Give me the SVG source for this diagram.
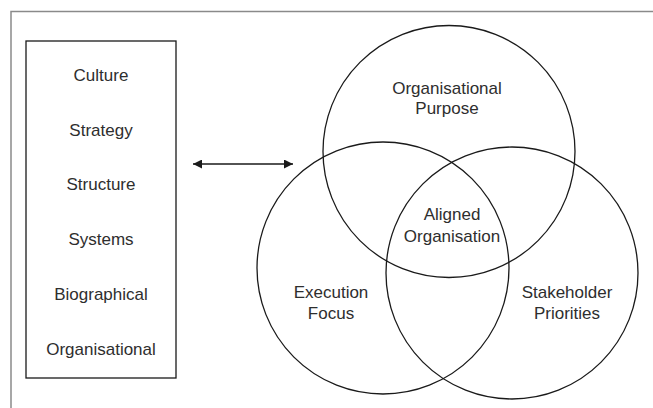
<svg xmlns="http://www.w3.org/2000/svg" width="653" height="408" viewBox="0 0 653 408">
<style>
.frame{fill:none;stroke:#8a8a8a;stroke-width:1.5}
.box{fill:none;stroke:#1a1a1a;stroke-width:1.3}
.circ{fill:none;stroke:#1a1a1a;stroke-width:1.3}
.conn{stroke:#1a1a1a;stroke-width:1.5;fill:none}
text{font-family:"Liberation Sans",Arial,sans-serif;font-size:17px;fill:#2e2e2e;text-anchor:middle}
</style>
<defs>
<marker id="ah" viewBox="0 0 10 10" refX="10" refY="5" markerWidth="10" markerHeight="9" markerUnits="userSpaceOnUse" orient="auto-start-reverse">
<path d="M0,0 L10,5 L0,10 Z" fill="#1a1a1a"/>
</marker>
</defs>
<rect class="frame" x="11" y="11.5" width="700" height="500"/>
<g id="list-box">
<rect class="box" x="26" y="41" width="150" height="337"/>
<text x="101" y="80.5">Culture</text>
<text x="101" y="135.5">Strategy</text>
<text x="101" y="190">Structure</text>
<text x="101" y="245">Systems</text>
<text x="101" y="300">Biographical</text>
<text x="101" y="355">Organisational</text>
</g>
<g id="connectors">
<line class="conn" x1="193" y1="164" x2="293" y2="164" marker-start="url(#ah)" marker-end="url(#ah)"/>
</g>
<g id="organisational-purpose">
<circle class="circ" cx="449" cy="151.5" r="126"/>
<text x="447" y="94">Organisational</text>
<text x="447" y="114">Purpose</text>
</g>
<g id="execution-focus">
<circle class="circ" cx="383" cy="268" r="126"/>
<text x="331" y="298">Execution</text>
<text x="331" y="319">Focus</text>
</g>
<g id="stakeholder-priorities">
<circle class="circ" cx="512" cy="273" r="126"/>
<text x="567" y="298">Stakeholder</text>
<text x="567" y="319">Priorities</text>
</g>
<g id="aligned-organisation">
<text x="452" y="220">Aligned</text>
<text x="452" y="241.5">Organisation</text>
</g>
</svg>
